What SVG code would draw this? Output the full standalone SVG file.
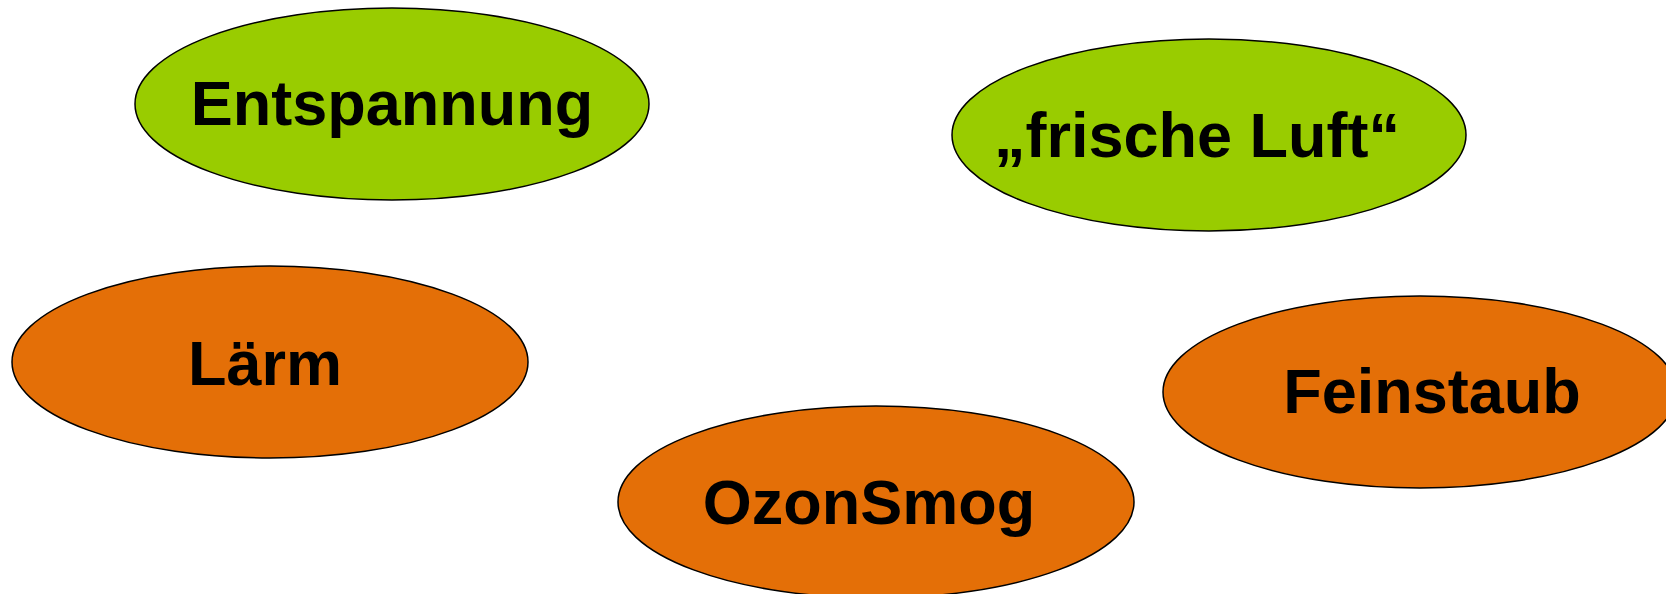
<svg xmlns="http://www.w3.org/2000/svg" width="1666" height="594" viewBox="0 0 1666 594">
<style>
.g{fill:#99CC00;stroke:#000;stroke-width:1.5}
.o{fill:#E46F07;stroke:#000;stroke-width:1.5}
text{font-family:"Liberation Sans",Arial,sans-serif;font-weight:bold;font-size:63px;fill:#000;text-anchor:middle}
</style>
<rect width="1666" height="594" fill="#fff"/>
<g id="connectors"/>
<g id="entspannung"><ellipse class="g" cx="392" cy="104" rx="257" ry="96"/><text x="392" y="125">Entspannung</text></g>
<g id="frische-luft"><ellipse class="g" cx="1209" cy="135" rx="257" ry="96"/><text x="1197" y="157">„frische Luft“</text></g>
<g id="laerm"><ellipse class="o" cx="270" cy="362" rx="258" ry="96"/><text x="265" y="385">Lärm</text></g>
<g id="feinstaub"><ellipse class="o" cx="1420" cy="392" rx="257" ry="96"/><text x="1432" y="413">Feinstaub</text></g>
<g id="ozonsmog"><ellipse class="o" cx="876" cy="502" rx="258" ry="96"/><text x="869" y="524">OzonSmog</text></g>
</svg>
